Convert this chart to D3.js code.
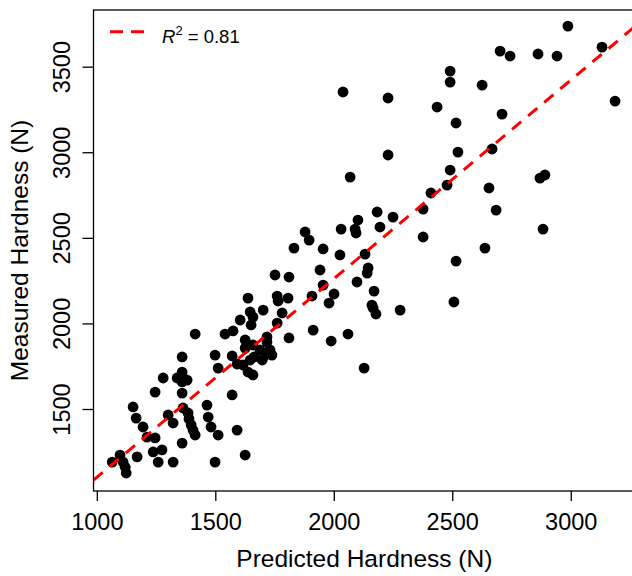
<!DOCTYPE html>
<html>
<head>
<meta charset="utf-8">
<script src="https://cdn.jsdelivr.net/npm/d3@7"></script>
<style>
  body { margin: 0; background: #fff; }
  svg { display: block; font-family: "Liberation Sans", Arial, sans-serif; }
</style>
</head>
<body>
<div id="chart"></div>
<script>
const width = 632;
const height = 576;

// predicted vs measured hardness (N)
const predicted = [
  2988, 2702, 2744, 2862, 2942, 3132, 3187, 2039, 2229, 2491, 2491, 2626, 2436, 2516, 2710,
  2229, 2524, 2668, 2069, 2491, 2478, 2870, 2891, 2655, 2410, 2685, 2377, 2883, 2183, 2250,
  2102, 2031, 2090, 2094, 2195, 2377, 1955, 2026, 2132, 2638, 2516, 1942, 2145, 2141, 2098,
  1955, 2170, 2507, 2280, 2001, 1980, 2161, 2166, 2178, 1913, 1989, 2060, 2128, 1879, 1896,
  1832, 1752, 1811, 1908, 1807, 1638, 1761, 1765, 1647, 1702, 1659, 1782, 1605, 1415, 1541,
  1575, 1626, 1718, 1811, 1499, 1571, 1512, 1592, 1651, 1761, 1626, 1659, 1689, 1731, 1739,
  1617, 1647, 1664, 1698, 1710, 1638, 1659, 1718, 1360, 1360, 1364, 1360, 1339, 1381, 1360,
  1280, 1246, 1153, 1166, 1301, 1322, 1385, 1389, 1398, 1406, 1415, 1360, 1465, 1470, 1482,
  1512, 1499, 1571, 1592, 1626, 1195, 1212, 1170, 1238, 1275, 1259, 1322, 1065, 1098, 1111,
  1124, 1246, 1364, 1120
];
const measured = [
  3737, 3591, 3562, 3574, 3562, 3614, 3299, 3352, 3317, 3474, 3410, 3392, 3264, 3171, 3223,
  2984, 3001, 3019, 2855, 2896, 2808, 2849, 2867, 2791, 2762, 2662, 2668, 2551, 2651, 2621,
  2604, 2551, 2551, 2528, 2563, 2505, 2435, 2400, 2405, 2440, 2364, 2312, 2324, 2294, 2242,
  2224, 2189, 2125, 2078, 2172, 2119, 2107, 2090, 2055, 1961, 1897, 1938, 1739, 2534, 2487,
  2440, 2283, 2271, 2160, 2148, 2148, 2160, 2131, 2067, 2078, 2037, 2061, 2020, 1938, 1938,
  1956, 1903, 1921, 1915, 1815, 1810, 1739, 1763, 1991, 2002, 1856, 1874, 1845, 1845, 1815,
  1757, 1786, 1804, 1786, 1815, 1716, 1699, 1891, 1804, 1716, 1681, 1658, 1681, 1669, 1593,
  1681, 1599, 1512, 1447, 1465, 1418, 1477, 1442, 1407, 1377, 1348, 1301, 1523, 1453, 1395,
  1348, 1190, 1582, 1377, 1231, 1395, 1336, 1220, 1249, 1261, 1190, 1190, 1190, 1231, 1190,
  1126, 1331, 1506, 1160
];

// regression line measured = intercept + slope * predicted
const fitIntercept = -59;
const fitSlope = 1.16;
const rSquared = "0.81";

const xTicks = [1000, 1500, 2000, 2500, 3000];
const yTicks = [1500, 2000, 2500, 3000, 3500];

const plot = { left: 93.5, right: 635.2, top: 10, bottom: 491 };

const x = d3.scaleLinear().domain([986, 3272]).range([plot.left, plot.right]);
const y = d3.scaleLinear().domain([1021, 3831]).range([plot.bottom, plot.top]);

const svg = d3
  .select("#chart")
  .append("svg")
  .attr("width", width)
  .attr("height", height);

svg
  .append("clipPath")
  .attr("id", "plot-clip")
  .append("rect")
  .attr("x", plot.left)
  .attr("y", plot.top)
  .attr("width", plot.right - plot.left)
  .attr("height", plot.bottom - plot.top);

// points
const pts = predicted.map((p, i) => ({ p: p, m: measured[i] }));
svg
  .append("g")
  .selectAll("circle")
  .data(pts)
  .enter()
  .append("circle")
  .attr("cx", (d) => x(d.p))
  .attr("cy", (d) => y(d.m))
  .attr("r", 5.4)
  .attr("fill", "#000");

// dashed fit line
const fitX = x.domain();
svg
  .append("line")
  .attr("clip-path", "url(#plot-clip)")
  .attr("x1", x(fitX[0]))
  .attr("y1", y(fitIntercept + fitSlope * fitX[0]))
  .attr("x2", x(fitX[1]))
  .attr("y2", y(fitIntercept + fitSlope * fitX[1]))
  .attr("stroke", "#ff0000")
  .attr("stroke-width", 3)
  .attr("stroke-dasharray", "12,9");

// box
svg
  .append("rect")
  .attr("x", plot.left)
  .attr("y", plot.top)
  .attr("width", plot.right - plot.left)
  .attr("height", plot.bottom - plot.top)
  .attr("fill", "none")
  .attr("stroke", "#000")
  .attr("stroke-width", 1.3);

// x axis
const gx = svg
  .append("g")
  .attr("transform", `translate(0,${plot.bottom})`)
  .call(d3.axisBottom(x).tickValues(xTicks).tickSize(10).tickFormat(d3.format("d")));
gx.select(".domain").remove();
gx.selectAll("line").attr("stroke", "#000").attr("stroke-width", 1.3);
gx.selectAll("text")
  .attr("dy", null)
  .attr("y", 38.5)
  .attr("fill", "#000")
  .style("font-size", "23.5px");

// y axis
const gy = svg
  .append("g")
  .attr("transform", `translate(${plot.left},0)`)
  .call(d3.axisLeft(y).tickValues(yTicks).tickSize(11).tickFormat(d3.format("d")));
gy.select(".domain").remove();
gy.selectAll("line").attr("stroke", "#000").attr("stroke-width", 1.3);
gy.selectAll("text")
  .attr("dy", null)
  .attr("x", 0)
  .attr("y", -23.5)
  .attr("transform", "rotate(-90)")
  .attr("text-anchor", "middle")
  .attr("fill", "#000")
  .style("font-size", "23.5px");

// axis titles
svg
  .append("text")
  .attr("x", (plot.left + plot.right) / 2)
  .attr("y", 567)
  .attr("text-anchor", "middle")
  .style("font-size", "24.5px")
  .text("Predicted Hardness (N)");

svg
  .append("text")
  .attr("transform", `translate(28,${(plot.top + plot.bottom) / 2}) rotate(-90)`)
  .attr("text-anchor", "middle")
  .style("font-size", "24.5px")
  .text("Measured Hardness (N)");

// legend
svg
  .append("line")
  .attr("x1", 110)
  .attr("x2", 144)
  .attr("y1", 31.7)
  .attr("y2", 31.7)
  .attr("stroke", "#ff0000")
  .attr("stroke-width", 3)
  .attr("stroke-dasharray", "13,8");

const leg = svg
  .append("text")
  .attr("x", 162)
  .attr("y", 43)
  .style("font-size", "18.5px");
leg.append("tspan").style("font-style", "italic").text("R");
leg.append("tspan").attr("dy", -8).style("font-size", "13px").text("2");
leg.append("tspan").attr("dy", 8).text(" = " + rSquared);
</script>
</body>
</html>
